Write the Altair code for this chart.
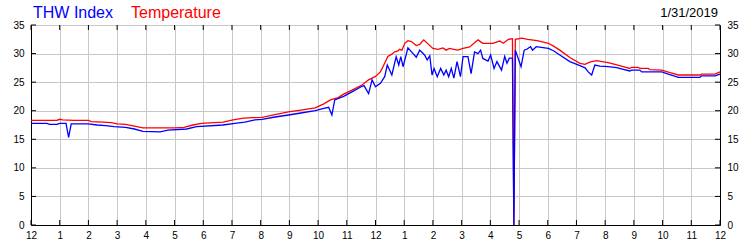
import altair as alt
import pandas as pd

# ---- data ----
temp_hours = [0.0, 0.5, 0.9, 1.0, 1.1, 1.5, 2.0, 2.1, 2.5, 2.8, 3.0, 3.3, 3.6, 3.9, 4.5, 5.0,
              5.33, 5.64, 5.94, 6.69, 7.04, 7.4, 7.74, 8.05, 8.5, 8.97, 9.4, 9.9, 10.2, 10.43,
              10.7, 10.89, 11.18, 11.53, 11.76, 12.0, 12.17, 12.26, 12.43, 12.57, 12.67, 12.78,
              12.84, 12.92, 13.02, 13.13, 13.25, 13.42, 13.54, 13.68, 13.83, 14.0, 14.18, 14.35,
              14.46, 14.58, 14.73, 14.87, 15.05, 15.28, 15.57, 15.74, 16.09, 16.26, 16.33, 16.45,
              16.63, 16.77, 16.82, 16.87, 17.1, 17.3, 17.63, 18.02, 18.2, 18.42, 18.77, 19.12,
              19.3, 19.46, 19.7, 20.1, 20.34, 20.63, 20.86, 20.92, 21.15, 21.21, 21.5, 21.56,
              21.97, 22.26, 22.55, 23.3, 23.36, 23.83, 24.0]
temp_values = [18.3, 18.3, 18.3, 18.5, 18.4, 18.3, 18.3, 18.1, 18.0, 17.9, 17.7, 17.6, 17.3, 17.0, 17.0, 17.0,
               17.1, 17.5, 17.8, 18.0, 18.4, 18.7, 18.8, 18.85, 19.3, 19.8, 20.1, 20.5, 21.2, 21.9,
               22.3, 22.9, 23.6, 24.5, 25.4, 26.0, 26.8, 27.7, 29.5, 29.9, 30.3, 30.45,
               30.75, 30.6, 31.8, 32.25, 32.1, 31.4, 31.6, 32.4, 31.7, 30.9, 30.75, 31.0,
               30.6, 30.9, 30.75, 30.6, 30.9, 31.15, 32.4, 31.8, 31.8, 32.1, 32.2, 31.8,
               32.5, 32.6, 0.0, 32.5, 32.7, 32.5, 32.25, 31.8, 31.3, 30.6, 29.3, 28.3,
               28.1, 28.5, 28.75, 28.4, 28.1, 27.7, 27.4, 27.6, 27.6, 27.4, 27.4, 27.2,
               27.1, 26.65, 26.25, 26.25, 26.4, 26.4, 26.8]

thw_hours = [0.0, 0.55, 0.65, 0.9, 1.0, 1.22, 1.31, 1.4, 2.0, 2.3, 2.6, 2.9, 3.3, 3.6, 3.9, 4.5,
             4.77, 5.42, 5.77, 6.69, 7.1, 7.45, 7.8, 8.05, 8.5, 8.97, 9.4, 9.9, 10.2, 10.37,
             10.48, 10.58, 10.89, 11.18, 11.5, 11.6, 11.76, 11.88, 12.0, 12.17, 12.32, 12.41,
             12.57, 12.72, 12.81, 12.88, 12.96, 13.13, 13.31, 13.42, 13.54, 13.71, 13.8, 13.89,
             13.97, 14.04, 14.15, 14.27, 14.38, 14.46, 14.55, 14.64, 14.73, 14.84, 14.96, 15.05,
             15.22, 15.33, 15.45, 15.57, 15.66, 15.74, 15.92, 16.01, 16.13, 16.23, 16.39, 16.5,
             16.58, 16.66, 16.77, 16.82, 16.87, 17.07, 17.18, 17.28, 17.4, 17.47, 17.6, 18.02,
             18.2, 18.42, 18.77, 19.12, 19.3, 19.41, 19.53, 19.64, 19.82, 20.1, 20.4, 20.63,
             20.86, 20.92, 21.21, 21.27, 21.97, 22.2, 22.55, 23.3, 23.36, 23.83, 24.0]
thw_values = [17.8, 17.8, 17.6, 17.6, 17.8, 17.8, 15.35, 17.7, 17.7, 17.5, 17.4, 17.2, 17.1, 16.8, 16.4, 16.3,
              16.6, 16.8, 17.2, 17.5, 17.8, 18.0, 18.4, 18.5, 18.9, 19.25, 19.6, 20.0, 20.4, 20.6,
              19.25, 21.9, 22.5, 23.3, 24.2, 24.4, 23.0, 25.4, 24.2, 24.8, 25.95, 28.0,
              26.25, 29.45, 28.0, 29.45, 27.7, 31.0, 30.0, 29.35, 30.6, 29.75, 28.9, 29.6,
              26.25, 27.4, 25.95, 27.4, 26.25, 27.1, 25.95, 27.4, 25.7, 28.6, 25.95, 29.45,
              29.45, 26.5, 30.3, 30.0, 30.6, 29.15, 28.7, 29.75, 27.4, 28.6, 27.1, 29.5,
              28.3, 29.2, 29.2, 0.0, 30.6, 27.7, 30.6, 30.8, 31.2, 30.6, 31.2, 30.9,
              30.5, 29.75, 28.6, 27.9, 27.5, 26.8, 26.25, 28.0, 27.8, 27.7, 27.55, 27.25,
              26.95, 27.1, 27.1, 26.8, 26.8, 26.4, 25.85, 25.85, 26.1, 26.1, 26.4]

hour_ticks = list(range(0, 25))
y_ticks = [0, 5, 10, 15, 20, 25, 30, 35]
legend_labels = ["THW Index", "Temperature"]
date_label = "1/31/2019"

df_temp = pd.DataFrame({"hour": temp_hours, "value": temp_values})
df_thw = pd.DataFrame({"hour": thw_hours, "value": thw_values})
df_xt = pd.DataFrame({"hour": hour_ticks})
df_yt = pd.DataFrame({"value": y_ticks})

W, H = 689, 200
FONT = "Liberation Sans"
GRID = "#c8c8c8"

x_scale = alt.Scale(domain=[0, 24], nice=False, zero=False)
y_scale = alt.Scale(domain=[0, 35], nice=False, zero=False)

x_axis = alt.Axis(values=hour_ticks, labelExpr="((datum.value + 11) % 12) + 1", title=None,
                  grid=True, gridColor=GRID, gridWidth=1, tickSize=0, labelPadding=5,
                  labelFlush=False, labelOverlap=False, domainColor="black", domainWidth=1)
X = alt.X("hour:Q", scale=x_scale, axis=x_axis)

y_left_axis = alt.Axis(values=y_ticks, title=None, orient="left", grid=True, gridColor=GRID,
                       gridWidth=1, tickSize=0, labelPadding=7, domainColor="black", domainWidth=1)
Y_left = alt.Y("value:Q", scale=y_scale, axis=y_left_axis)
Y_plain = alt.Y("value:Q", scale=y_scale, axis=None)
y_right_axis = alt.Axis(values=y_ticks, title=None, orient="right", grid=False, tickSize=0,
                        labelPadding=7, domainColor="black", domainWidth=1)
Y_right = alt.Y("value:Q", scale=y_scale, axis=y_right_axis)

temp_line = alt.Chart(df_temp).mark_line(color="#ff0000", strokeWidth=1.3).encode(x=X, y=Y_left)
thw_line = alt.Chart(df_thw).mark_line(color="#0000ff", strokeWidth=1.3).encode(x=X, y=Y_plain)

bottom_ticks = alt.Chart(df_xt).mark_rule(color="black", strokeWidth=1).encode(
    x=X, y=alt.value(H), y2=alt.value(H - 5))
top_ticks = alt.Chart(df_xt).mark_rule(color="black", strokeWidth=1).encode(
    x=X, y=alt.value(0), y2=alt.value(5))
left_ticks = alt.Chart(df_yt).mark_rule(color="black", strokeWidth=1).encode(
    y=Y_plain, x=alt.value(0), x2=alt.value(5))
right_ticks = alt.Chart(df_yt).mark_rule(color="black", strokeWidth=1).encode(
    y=Y_right, x=alt.value(W - 5), x2=alt.value(W))

t1 = alt.Chart(pd.DataFrame({"t": [legend_labels[0]]})).mark_text(
    font=FONT, fontSize=16, color="#0000ff", align="left", baseline="alphabetic").encode(
    text="t:N", x=alt.value(2), y=alt.value(-7.5))
t2 = alt.Chart(pd.DataFrame({"t": [legend_labels[1]]})).mark_text(
    font=FONT, fontSize=16, color="#ff0000", align="left", baseline="alphabetic").encode(
    text="t:N", x=alt.value(100), y=alt.value(-7.5))
t3 = alt.Chart(pd.DataFrame({"t": [date_label]})).mark_text(
    font=FONT, fontSize=13, color="black", align="right", baseline="alphabetic").encode(
    text="t:N", x=alt.value(687), y=alt.value(-8))

chart = alt.layer(
    temp_line, thw_line, bottom_ticks, top_ticks, left_ticks, right_ticks, t1, t2, t3
).resolve_axis(y="independent").properties(
    width=W, height=H,
    padding={"left": 31, "top": 25, "right": 30, "bottom": 25},
    autosize=alt.AutoSizeParams(type="none"),
).configure_view(stroke="black", strokeWidth=1).configure_axis(
    labelFont=FONT, labelFontSize=13, labelColor="black"
).configure(background="white")

chart.save("out.html", embed_options={"renderer": "svg", "actions": False})
